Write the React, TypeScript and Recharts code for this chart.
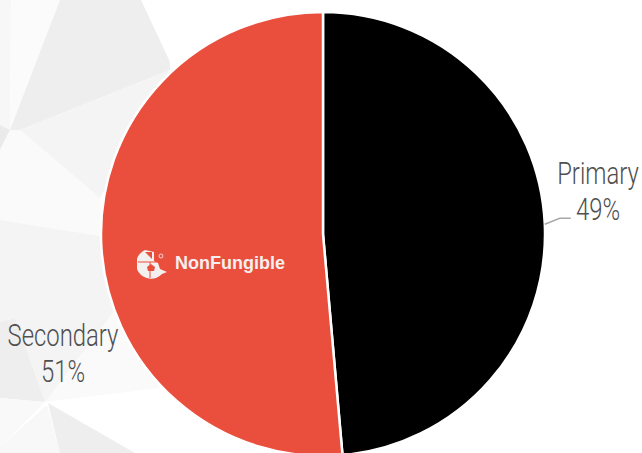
import { PieChart, Pie, Cell } from 'recharts';

const categories = ['Primary', 'Secondary'];
const shares = [48.6, 51.4];
const colors = ['#000000', '#EA4F3D'];

const data = categories.map((name, i) => ({ name, value: shares[i] }));

const labelOffsets = [
  { dx: 275, dy: -50 },
  { dx: -260, dy: 112 },
];

// faint polygon backdrop on the left of the picture
const backdrop: [string, string][] = [
  ['0,0 11,0 10,130 0,125', '#f7f7f7'],
  ['11,0 60,0 10,130', '#fbfbfb'],
  ['60,0 141,0 170,62 170,70 20,130 10,130', '#eeeeee'],
  ['0,125 10,130 0,150', '#eaeaea'],
  ['20,130 170,70 100,198', '#f4f4f4'],
  ['10,130 20,130 100,198 100,236 0,220 0,150', '#fafafa'],
  ['0,220 100,236 115,310 45,402 15,318 0,322', '#f4f4f4'],
  ['0,322 15,318 45,402 0,398', '#eeeeee'],
  ['45,402 115,310 160,388', '#fafafa'],
  ['0,398 45,402 0,447', '#f9f9f9'],
  ['0,447 47,405 60,453 0,453', '#f8f8f8'],
  ['48,403 135,453 60,453', '#eeeeee'],
];

function SliceLabel(props: any) {
  const { cx, cy, index, name, percent } = props;
  const off = labelOffsets[index];
  const x = cx + off.dx;
  const y = cy + off.dy;
  return (
    <text
      transform={`translate(${x} ${y}) scale(0.77 1)`}
      textAnchor="middle"
      fill="#4f4f4f"
      fontFamily="Roboto, sans-serif"
      fontWeight={300}
      fontSize={31}
    >
      <tspan x={0} y={0}>{name}</tspan>
      <tspan x={0} y={36}>{Math.round(percent * 100)}%</tspan>
    </text>
  );
}

function SliceLine(props: any) {
  const { cx, cy, outerRadius, midAngle, index } = props;
  if (index !== 0) return <g />;
  const rad = (midAngle * Math.PI) / 180;
  const x0 = cx + outerRadius * Math.cos(rad);
  const y0 = cy - outerRadius * Math.sin(rad);
  const d = `M${x0},${y0} L${x0 + 15},${y0 - 6} L${x0 + 26},${y0 - 6}`;
  return <path d={d} fill="none" stroke="#a8a8a8" strokeWidth={1.5} />;
}

function Logo() {
  return (
    <div style={{ position: 'absolute', left: 137, top: 248, display: 'flex', alignItems: 'center' }}>
      <svg width={32} height={31} viewBox="0 0 32 31">
        <path d="M8,2 A15,15 0 1 0 25,26 L30,24 L23,21 L21,15 L17,13 L17,4 Z" fill="#f4f0ef" />
        <path d="M8,4 L15,4 L15,11 Z" fill="#EA4F3D" />
        <path d="M1,14 L20,14" stroke="#EA4F3D" strokeWidth={1} />
        <path d="M13,14 L13,30" stroke="#EA4F3D" strokeWidth={1} />
        <path d="M10,19 L14,16 L18,19 L17,23 L11,23 Z" fill="#EA4F3D" />
        <circle cx={24} cy={8} r={2} fill="none" stroke="#f4f0ef" strokeWidth={0.8} />
      </svg>
      <span
        style={{
          marginLeft: 6,
          color: '#f4efee',
          fontFamily: "'Liberation Sans', Arial, sans-serif",
          fontWeight: 700,
          fontSize: 18,
        }}
      >
        NonFungible
      </span>
    </div>
  );
}

export default function App() {
  return (
    <div style={{ position: 'absolute', left: 0, top: 0, width: 642, height: 453, overflow: 'hidden', background: '#fff' }}>
      <svg width={642} height={453} style={{ position: 'absolute', left: 0, top: 0 }}>
        {backdrop.map(([points, fill]) => (
          <polygon key={points} points={points} fill={fill} />
        ))}
      </svg>
      <div style={{ position: 'absolute', left: 0, top: 0 }}>
        <PieChart width={642} height={453} margin={{ top: 0, right: 0, bottom: 0, left: 0 }}>
          <Pie
            data={data}
            dataKey="value"
            nameKey="name"
            cx={323}
            cy={234}
            outerRadius={222}
            startAngle={90}
            endAngle={-270}
            stroke="#ffffff"
            strokeWidth={2.5}
            label={SliceLabel}
            labelLine={SliceLine}
            isAnimationActive={false}
          >
            {data.map((d, i) => (
              <Cell key={d.name} fill={colors[i]} />
            ))}
          </Pie>
        </PieChart>
      </div>
      <Logo />
    </div>
  );
}
